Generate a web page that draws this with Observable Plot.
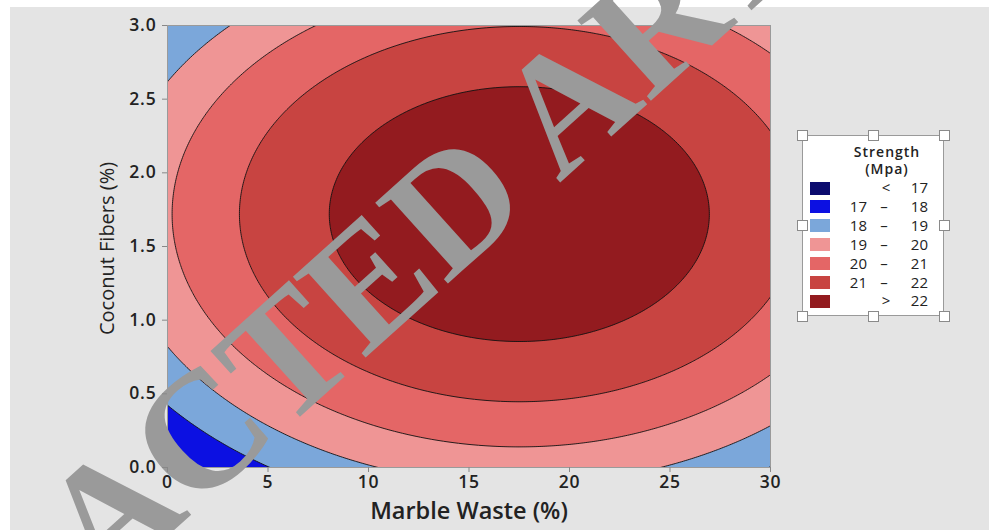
<!DOCTYPE html>
<html>
<head>
<meta charset="utf-8">
<script src="https://cdn.jsdelivr.net/npm/d3@7"></script>
<script src="https://cdn.jsdelivr.net/npm/@observablehq/plot@0.6"></script>
<style>
  html, body { margin: 0; padding: 0; background: #ffffff; }
  #page { position: relative; width: 989px; height: 530px; overflow: hidden; font-family: "Open Sans", sans-serif; }
  #bg { position: absolute; left: 10px; top: 7px; right: 0; bottom: 0; background: #e4e4e4; }
  #chart { position: absolute; left: 0; top: 0; }
  .lg { position: absolute; font-size: 15px; color: #222; line-height: 1; white-space: nowrap; }
  .handle { position: absolute; width: 9px; height: 9px; background: #fff; border: 1px solid #8a8a8a; }
  g[aria-label="watermark"] text { font-family: "Liberation Serif", "DejaVu Serif", serif !important; font-weight: bold; }
  g[aria-label="x-title"] text { letter-spacing: 0.9px; }
  g[aria-label="x-axis tick label"] text, g[aria-label="y-axis tick label"] text { letter-spacing: 0.8px; }
</style>
</head>
<body>
<div id="page"><div id="bg"></div><div id="chart"></div></div>
<script>
// ---- data ----
const marbleTicks = [0, 5, 10, 15, 20, 25, 30];            // Marble Waste (%)
const fiberTicks  = [0, 0.5, 1, 1.5, 2, 2.5, 3];             // Coconut Fibers (%)
const levels      = [17, 18, 19, 20, 21, 22];                // contour levels (Mpa)
const levelColors = ["#0b0b6e", "#0c10e2", "#7ba7da", "#ef9595", "#e46666", "#c84441", "#931b1f"];
// quadratic response-surface coefficients estimated from the contour geometry
const modelTerms  = ["const", "X", "Y", "X2", "Y2"];
const modelCoefs  = [16.54, 0.335, 3.935, -0.00957, -1.144];
const watermark   = ["RETRACTED ARTICLE"];
const xTitle = "Marble Waste (%)";
const yTitle = "Coconut Fibers (%)";
const legendTitle = ["Strength", "(Mpa)"];

const coef = Object.fromEntries(modelTerms.map((t, i) => [t, modelCoefs[i]]));
const strength = (x, y) => coef.const + coef.X * x + coef.Y * y + coef.X2 * x * x + coef.Y2 * y * y;
const thresholds = [10, ...levels];

const chart = Plot.plot({
  width: 989, height: 530,
  marginLeft: 167, marginRight: 219, marginTop: 25, marginBottom: 63,
  style: { background: "transparent", fontFamily: "Open Sans, sans-serif", fontSize: "15px", color: "#222" },
  x: { domain: [0, 30] },
  y: { domain: [0, 3] },
  color: { type: "threshold", domain: levels, range: levelColors, legend: false },
  marks: [
    Plot.contour({ fill: strength, x1: -1, x2: 31, y1: -0.1, y2: 3.1, thresholds, clip: true }),
    Plot.contour({ value: strength, fill: "none", stroke: "#111", strokeWidth: 0.9, x1: -1, x2: 31, y1: -0.1, y2: 3.1, thresholds: levels, clip: true }),
    Plot.frame({ stroke: "#9a9a9a", strokeWidth: 1 }),
    Plot.text(watermark, { ariaLabel: "watermark", frameAnchor: "middle", dx: -66, dy: 6, text: d => d, rotate: -42, fontSize: 166,
      fontFamily: "Liberation Serif", fontWeight: "bold", fill: "#9a9a9a", textAnchor: "middle", lineAnchor: "middle" }),
    Plot.axisX({ ticks: marbleTicks, tickSize: 5, tickPadding: 3, label: null, stroke: "#888", fontSize: 17.5, fontWeight: 600, fill: "#222" }),
    Plot.axisY({ ticks: fiberTicks, tickSize: 5, tickPadding: 6, tickFormat: d3.format(".1f"), label: null, stroke: "#888", fontSize: 17.5, fontWeight: 600, fill: "#222" }),
    Plot.text([xTitle], { ariaLabel: "x-title", frameAnchor: "bottom", dy: 51, text: d => d, fontSize: 23.5, fontWeight: 600, fill: "#222" }),
    Plot.text([yTitle], { ariaLabel: "y-title", frameAnchor: "left", dx: -60, dy: 2, text: d => d, rotate: -90, textAnchor: "middle", fontSize: 20, fontWeight: 500, fill: "#222" })
  ]
});
document.getElementById("chart").appendChild(chart);

// ---- legend (HTML overlay) ----
const page = document.getElementById("page");
const box = { left: 802, top: 135, width: 142, height: 181 };
const frame = document.createElement("div");
Object.assign(frame.style, { position: "absolute", left: box.left + "px", top: box.top + "px",
  width: box.width + "px", height: box.height + "px", background: "#fff", border: "1px solid #9a9a9a", boxSizing: "border-box" });
page.appendChild(frame);
const hx = [box.left, box.left + box.width / 2, box.left + box.width];
const hy = [box.top, box.top + box.height / 2, box.top + box.height];
hx.forEach((x, i) => hy.forEach((y, j) => {
  if (i === 1 && j === 1) return;
  const h = document.createElement("div"); h.className = "handle";
  h.style.left = (x - 5.5) + "px"; h.style.top = (y - 5.5) + "px";
  page.appendChild(h);
}));
function lgText(txt, x, y, anchor, extra) {
  const s = document.createElement("div"); s.className = "lg"; s.textContent = txt;
  s.style.top = (y - 8) + "px";
  if (anchor === "right") { s.style.right = (989 - x) + "px"; }
  else if (anchor === "center") { s.style.left = (x - 60) + "px"; s.style.width = "120px"; s.style.textAlign = "center"; }
  else { s.style.left = x + "px"; }
  if (extra) Object.assign(s.style, extra);
  page.appendChild(s);
  return s;
}
// two-line legend title in one block
const ttl = lgText("", 887, 151, "center", { fontWeight: 600, fontSize: "14px", lineHeight: "17px", letterSpacing: "1px" });
ttl.innerHTML = legendTitle.join("<br>");
levelColors.forEach((c, i) => {
  const cy = 188 + i * 18.9;
  const sw = document.createElement("div");
  Object.assign(sw.style, { position: "absolute", left: "810px", top: (cy - 6.5) + "px", width: "20px", height: "13px", background: c });
  page.appendChild(sw);
  if (i === 0) { lgText("<", 886, cy, "center"); lgText(String(levels[0]), 928, cy, "right"); }
  else if (i === levelColors.length - 1) { lgText(">", 886, cy, "center"); lgText(String(levels[levels.length - 1]), 928, cy, "right"); }
  else {
    lgText(String(levels[i - 1]), 867, cy, "right");
    lgText("–", 884, cy, "center");
    lgText(String(levels[i]), 928, cy, "right");
  }
});
</script>
</body>
</html>
